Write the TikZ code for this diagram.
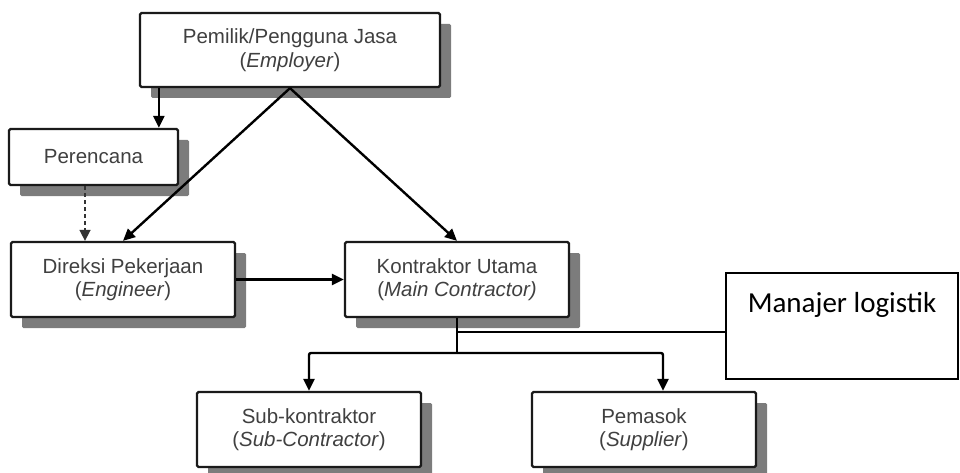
\documentclass[tikz,border=0pt]{standalone}
\usepackage{fontspec}
\setmainfont{Liberation Sans}
\newfontfamily\calib{Carlito}
\usetikzlibrary{arrows.meta,shadows,calc}
\definecolor{txtgray}{HTML}{404040}
\definecolor{shadgray}{HTML}{7C7C7C}
\definecolor{edgegray}{HTML}{1A1A1A}
\tikzset{
  box/.style={draw=edgegray, line width=2.3pt, fill=white, rounded corners=1.5pt,
    text=txtgray, font=\fontsize{20.5}{23.5}\selectfont, align=center,
    inner sep=0pt, minimum width=224pt, minimum height=75pt,
    drop shadow={shadow xshift=11pt, shadow yshift=-11pt, fill=shadgray, opacity=1}},
  arr/.style={draw=black, line width=2.4pt, -{Triangle[length=12pt,width=11pt]}},
  dasharr/.style={draw=black!80, line width=1.6pt, dashed, dash pattern=on 4pt off 3pt, -{Triangle[length=11pt,width=11pt]}},
  plain/.style={draw=black, line width=1.6pt},
  mgr/.style={draw=black, line width=1.6pt, fill=white, minimum width=232pt, minimum height=106pt,
    inner sep=0pt}
}
\begin{document}
\begin{tikzpicture}[x=1pt,y=-1pt]
\useasboundingbox (0,0) rectangle (960,473);
\node[box, minimum width=300pt, minimum height=74pt] (emp) at (290,50) {Pemilik/Pengguna Jasa\\(\textit{Employer})};
\node[box, minimum width=169pt, minimum height=56pt] (per) at (93.5,157) {Perencana};
\node[box] (dir) at (123,279.5) {Direksi Pekerjaan\\(\textit{Engineer})};
\node[box] (kon) at (457,279.5) {Kontraktor Utama\\(\textit{Main Contractor)}};
\node[box] (sub) at (309,429.5) {Sub-kontraktor\\(\textit{Sub-Contractor})};
\node[box] (pem) at (644,429.5) {Pemasok\\(\textit{Supplier})};
\node[mgr] (man) at (842,326) {};
\node[font=\calib\fontsize{29}{34}\selectfont, anchor=base] (mant) at (842,312) {Manajer logistik};
\coordinate (j) at (457,332);
\coordinate (b) at (457,353);
\draw[arr] ([xshift=20pt]emp.south west) -- ([xshift=20pt]emp.south west |- per.north);
\draw[arr] (emp.south) -- (dir.north);
\draw[arr] (emp.south) -- (kon.north);
\draw[dasharr] ([xshift=-8.5pt]per.south) -- ([xshift=-8.5pt]per.south |- dir.north);
\draw[arr] (dir.east) -- (kon.west);
\draw[plain] (j) -- (j -| man.west);
\draw[draw=black, line width=2.4pt] (kon.south) -- (b);
\draw[arr, rounded corners=2pt] (b) -| (sub.north);
\draw[arr, rounded corners=2pt] (b) -| ([xshift=19pt]pem.north);
\end{tikzpicture}
\end{document}
